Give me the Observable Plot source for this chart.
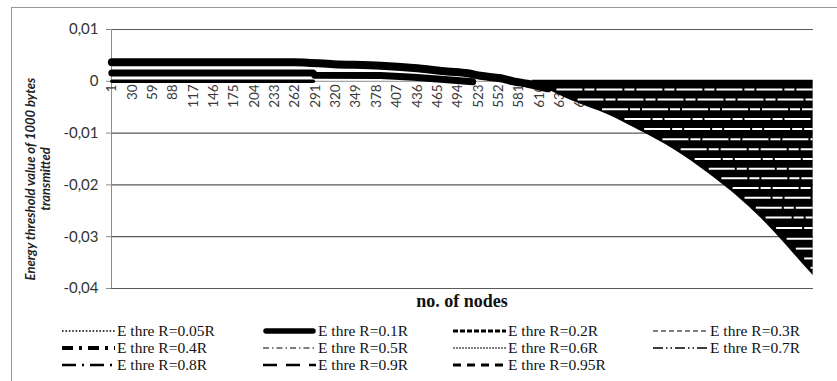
<!DOCTYPE html>
<html><head><meta charset="utf-8">
<script src="https://cdn.jsdelivr.net/npm/d3@7"></script>
<script src="https://cdn.jsdelivr.net/npm/@observablehq/plot@0.6"></script>
<style>
body{margin:0;background:#fff;overflow:hidden}
#wrap{position:relative;width:837px;height:381px;overflow:hidden;background:#fff}
#border{position:absolute;left:11px;top:7px;width:900px;height:500px;border-left:1px solid #9a9a9a;border-top:1px solid #9a9a9a}
#chart{position:absolute;left:0;top:0}
#xtitle{position:absolute;top:291px;left:0;width:924px;text-align:center;font:bold 18px "Liberation Serif";color:#111}
.item{position:absolute;font:15.5px "Liberation Serif";white-space:nowrap;line-height:16px;color:#111}
.item svg{position:absolute;left:0;top:0}
</style></head>
<body><div id="wrap"><div id="border"></div><div id="chart"></div><div id="xtitle">no. of nodes</div><div id="legend"></div></div>
<script>
// ---- data ----
const seriesNames = ["E thre R=0.05R","E thre R=0.1R","E thre R=0.2R","E thre R=0.3R",
  "E thre R=0.4R","E thre R=0.5R","E thre R=0.6R","E thre R=0.7R",
  "E thre R=0.8R","E thre R=0.9R","E thre R=0.95R"];
const xTickLabels = [1,30,59,88,117,146,175,204,233,262,291,320,349,378,407,436,465,494,523,552,581,610,639,668,697,726,755,784,813,842,871,900,929,958,987];
const yTicks = [0.01, 0, -0.01, -0.02, -0.03, -0.04];
const nodeCount = 1000;
// upper thick band
const upperNodes  = [1, 260, 317, 384, 431, 479, 508, 526, 555, 573, 593, 622];
const upperValues = [0.0037, 0.0037, 0.0033, 0.0030, 0.00256, 0.0019, 0.00154, 0.00106, 0.00058, 0, -0.00048, -0.00135];
// middle thick band
const middleNodes  = [1, 288, 290, 384, 431, 479, 515];
const middleValues = [0.0016, 0.0016, 0.00115, 0.0011, 0.0008, 0.0003, -0.0001];
// band at zero
const zeroNodes  = [1, 288];
const zeroValues = [0, 0];
// falling boundary of the dark region
const curveNodes  = [600, 612, 659, 707, 754, 801, 850, 868, 897, 921, 944, 968, 992, 1000];
const curveValues = [-0.0003, -0.001, -0.0039, -0.0064, -0.0096, -0.0131, -0.0177, -0.0196, -0.0228, -0.0258, -0.029, -0.0326, -0.0363, -0.0375];
const stripeTop = 0.0002;
// thin light separations between the stacked series lines
const gapValues = [-0.0016,-0.0035,-0.0054,-0.0073,-0.0092,-0.0112,-0.0131,-0.015,-0.0169,-0.0187,-0.0206,-0.0225,-0.0244,-0.0263,-0.0283,-0.0304,-0.0323,-0.0342,-0.036];
const gapStartNodes = [635,665,700,732,760,786,812,832,852,870,886,903,919,933,948,963,976,988,997];

// ---- build tables ----
const zip = (ns, vs) => ns.map((n, i) => ({n, v: vs[i]}));
const upper = zip(upperNodes, upperValues);
const middle = zip(middleNodes, middleValues);
const zero = zip(zeroNodes, zeroValues);
const curve = zip(curveNodes, curveValues);
const gaps = zip(gapStartNodes, gapValues);

const fmt = d => d === 0 ? "0" : d.toFixed(2).replace(".", ",");
const sans = "Lato, 'Open Sans', sans-serif";

const plot = Plot.plot({
  width: 837, height: 300,
  marginLeft: 111, marginRight: 24, marginTop: 29, marginBottom: 12,
  x: {type: "linear", domain: [0.5, nodeCount + 0.5], axis: null},
  y: {domain: [-0.04, 0.01], axis: null},
  style: {fontFamily: sans, background: "transparent", overflow: "visible"},
  marks: [
    Plot.ruleY(yTicks.filter(d => d !== 0), {stroke: "#5a5a5a", strokeWidth: 1.2}),
    Plot.ruleY([0], {stroke: "#8c8c8c"}),
    Plot.ruleX([0.5], {y1: d => -0.04, y2: d => 0.01, stroke: "#8c8c8c"}),
    Plot.axisY({ticks: yTicks, tickSize: 5, tickPadding: 8, tickFormat: fmt, fontSize: 15, label: null, stroke: "#8c8c8c", fill: "#333", fontFamily: sans}),
    Plot.text(xTickLabels, {x: d => d, y: d => 0, text: d => String(d), rotate: -90, textAnchor: "end", dy: 3, fontSize: 13.5, fill: "#3a3a3a", fontFamily: sans}),
    Plot.line(zero, {x: "n", y: "v", stroke: "black", strokeWidth: 3.5}),
    Plot.line(middle, {x: "n", y: "v", stroke: "black", strokeWidth: 7, curve: "linear"}),
    Plot.line(upper, {x: "n", y: "v", stroke: "black", strokeWidth: 8, curve: "monotone-x"}),
    Plot.areaY(curve, {x: "n", y1: "v", y2: d => stripeTop, fill: "black", curve: "monotone-x"}),
    Plot.ruleY(gaps, {y: "v", x1: "n", x2: d => nodeCount, stroke: "white", strokeWidth: 2, strokeDasharray: "26,2,10,2"}),
    Plot.text(["Energy threshold value of 1000 bytes\ntransmitted"], {frameAnchor: "left", dx: -74, dy: 20, rotate: -90, textAnchor: "middle", fontSize: 13, fontWeight: "bold", fontStyle: "italic", lineHeight: 1.15, fill: "#222", fontFamily: sans})
  ]
});
document.getElementById("chart").appendChild(plot);

// ---- legend ----
const legendStyles = [
  {w: 1.6, dash: "1.6,1.8", cap: "butt"},
  {w: 5.5, dash: null, cap: "round"},
  {w: 3, dash: "5,2", cap: "butt"},
  {w: 1.2, dash: "5,3", cap: "butt"},
  {w: 4, dash: "11,6,3,6", cap: "butt"},
  {w: 1, dash: "6,3,1.5,3", cap: "butt"},
  {w: 1, dash: "2,1", cap: "butt"},
  {w: 1.5, dash: "10,3,1.5,3,1.5,3", cap: "butt"},
  {w: 2.5, dash: "14,6,2,6", cap: "butt"},
  {w: 2.5, dash: "14,9", cap: "butt"},
  {w: 3, dash: "8,6", cap: "butt"}
];
const colSample = [62, 263, 453, 653];
const colText = [117, 318, 508, 710];
const rowY = [331, 348, 365];
const leg = document.getElementById("legend");
seriesNames.forEach((name, i) => {
  const c = i % 4, r = Math.floor(i / 4), s = legendStyles[i];
  const sw = colText[c] - colSample[c] - 2;
  const div = document.createElement("div");
  div.className = "item";
  div.style.left = colSample[c] + "px";
  div.style.top = (rowY[r] - 8) + "px";
  div.style.width = "170px"; div.style.height = "16px";
  div.innerHTML = `<svg width="${sw}" height="16"><line x1="${s.cap === 'round' ? 3 : 0}" x2="${sw - (s.cap === 'round' ? 3 : 0)}" y1="8" y2="8" stroke="black" stroke-width="${s.w}" ${s.dash ? `stroke-dasharray="${s.dash}"` : ""} stroke-linecap="${s.cap}"/></svg><span style="position:absolute;left:${colText[c] - colSample[c]}px;top:0">${name}</span>`;
  leg.appendChild(div);
});
</script></body></html>
